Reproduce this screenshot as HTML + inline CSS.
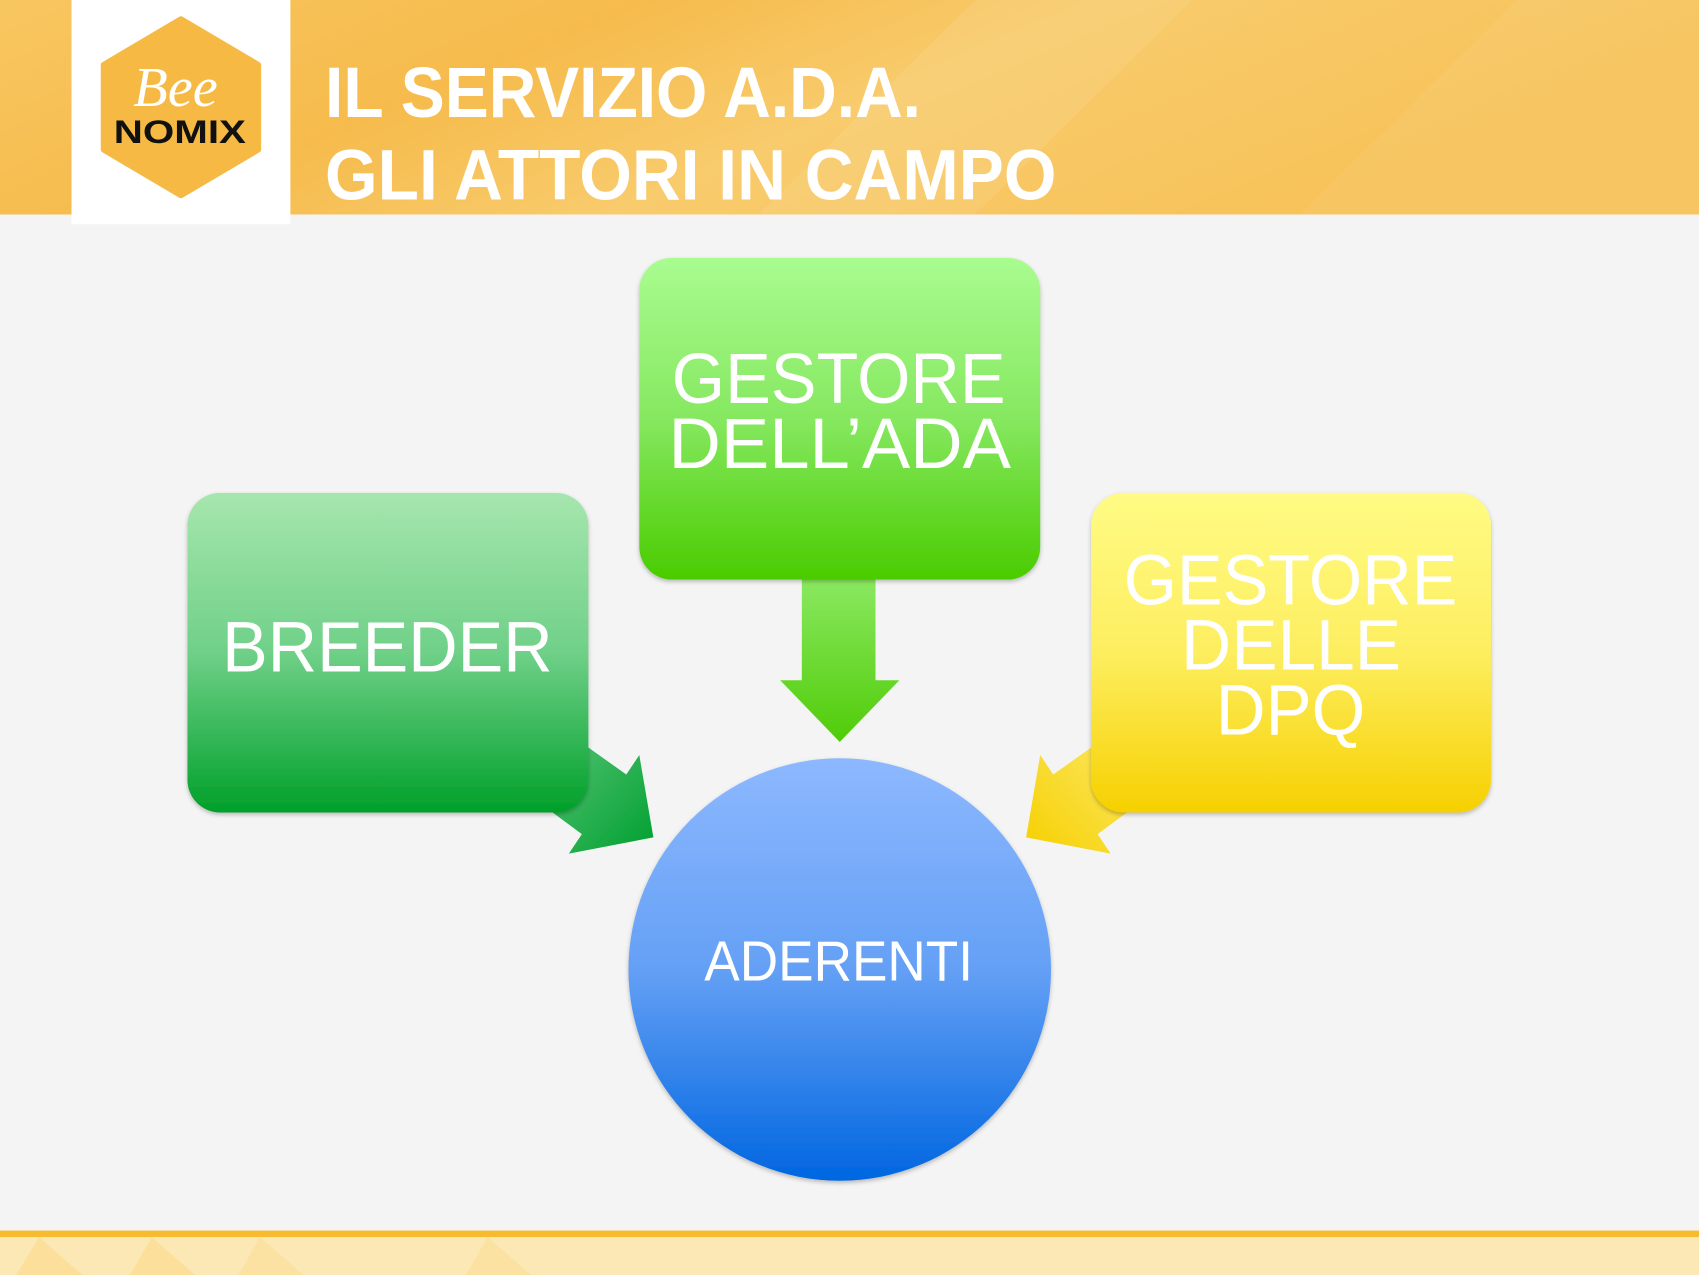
<!DOCTYPE html>
<html><head><meta charset="utf-8"><style>
html,body{margin:0;padding:0;background:#f4f4f4;}
svg{display:block}
</style></head><body>
<svg width="1699" height="1275" viewBox="0 0 1568 1177" preserveAspectRatio="none" xmlns="http://www.w3.org/2000/svg">
<defs>
<linearGradient id="hdr" x1="0" y1="0" x2="1" y2="0.3">
<stop offset="0" stop-color="#f8c660"/><stop offset="0.35" stop-color="#f6bb4c"/><stop offset="0.6" stop-color="#f8cb6c"/><stop offset="1" stop-color="#f7c258"/></linearGradient>
<linearGradient id="gA" x1="0" y1="0" x2="0" y2="1"><stop offset="0" stop-color="#a9fc90"/><stop offset="0.5" stop-color="#86e860"/><stop offset="1" stop-color="#4acc00"/></linearGradient>
<linearGradient id="gB" x1="0" y1="0" x2="0" y2="1"><stop offset="0" stop-color="#a6e6ae"/><stop offset="0.5" stop-color="#6fd088"/><stop offset="1" stop-color="#00a02a"/></linearGradient>
<linearGradient id="gD" x1="0" y1="0" x2="0" y2="1"><stop offset="0" stop-color="#fffb84"/><stop offset="0.5" stop-color="#fdee60"/><stop offset="1" stop-color="#f6d000"/></linearGradient>
<linearGradient id="gC" x1="0" y1="0" x2="0" y2="1"><stop offset="0" stop-color="#8db8ff"/><stop offset="0.5" stop-color="#64a0f5"/><stop offset="1" stop-color="#0066e0"/></linearGradient>
<linearGradient id="aA" x1="0" y1="0" x2="0" y2="1"><stop offset="0" stop-color="#8ae860"/><stop offset="1" stop-color="#50cc08"/></linearGradient>
<linearGradient id="aB" x1="0" y1="0" x2="1" y2="1"><stop offset="0" stop-color="#50c070"/><stop offset="1" stop-color="#00a030"/></linearGradient>
<linearGradient id="aD" x1="1" y1="0" x2="0" y2="1"><stop offset="0" stop-color="#fbe660"/><stop offset="1" stop-color="#f6d000"/></linearGradient>
<filter id="sh" x="-10%" y="-10%" width="120%" height="120%"><feDropShadow dx="0" dy="2" stdDeviation="2" flood-color="#000" flood-opacity="0.25"/></filter>
</defs>
<rect width="1568" height="1177" fill="#f4f4f4"/>
<rect width="1568" height="198" fill="url(#hdr)"/>
<polygon points="700,198 900,0 1100,0 900,198" fill="#fff" opacity="0.08"/>
<polygon points="1200,198 1400,0 1568,0 1568,198" fill="#fff" opacity="0.06"/>
<rect x="0" y="1136" width="1568" height="6" fill="#f8bb2e"/>
<rect x="0" y="1142" width="1568" height="35" fill="#fce8b4"/>
<polygon points="15,1177 36,1142 76,1177" fill="#fbdc90" opacity="0.7"/>
<polygon points="120,1177 140,1142 180,1177" fill="#fbdc90" opacity="0.7"/>
<polygon points="220,1177 240,1142 280,1177" fill="#fbdc90" opacity="0.5"/>
<polygon points="430,1177 450,1142 490,1177" fill="#fbdc90" opacity="0.5"/>
<rect x="66" y="0" width="202" height="207" fill="#fff"/>
<polygon points="167,18 238,60 238,138 167,180 96,138 96,60" fill="#f5b944" stroke="#f5b944" stroke-width="6" stroke-linejoin="round"/>
<text x="162" y="98" font-family="Liberation Serif, serif" font-style="italic" font-size="52" fill="#fff" text-anchor="middle">Bee</text>
<text x="166" y="132" font-family="Liberation Sans, sans-serif" font-weight="bold" font-size="30" fill="#111" text-anchor="middle" textLength="122" lengthAdjust="spacingAndGlyphs">NOMIX</text>
<g font-family="Liberation Sans, sans-serif" font-weight="bold" fill="#fff" font-size="66">
<text x="300" y="108" textLength="550" lengthAdjust="spacingAndGlyphs">IL SERVIZIO A.D.A.</text>
<text x="300" y="184" textLength="675" lengthAdjust="spacingAndGlyphs">GLI ATTORI IN CAMPO</text>
</g>
<polygon points="740,535 808,535 808,628 830,628 775,685 720,628 740,628" fill="url(#aA)"/>
<polygon points="543,690 578,715 590,697 603,773 525,788 537,770 510,750" fill="url(#aB)"/>
<polygon points="1007,690 972,715 960,697 947,773 1025,788 1013,770 1040,750" fill="url(#aD)"/>
<rect x="590" y="238" width="370" height="297" rx="30" fill="url(#gA)" filter="url(#sh)"/>
<rect x="173" y="455" width="370" height="295" rx="30" fill="url(#gB)" filter="url(#sh)"/>
<rect x="1007" y="455" width="369" height="295" rx="30" fill="url(#gD)" filter="url(#sh)"/>
<circle cx="775" cy="895" r="195" fill="url(#gC)" filter="url(#sh)"/>
<g font-family="Liberation Sans, sans-serif" fill="#fff" font-size="66">
<text x="620" y="372" textLength="308" lengthAdjust="spacingAndGlyphs">GESTORE</text>
<text x="617" y="432" textLength="316" lengthAdjust="spacingAndGlyphs">DELL’ADA</text>
<text x="205" y="620" textLength="305" lengthAdjust="spacingAndGlyphs">BREEDER</text>
<text x="1037" y="558" textLength="308" lengthAdjust="spacingAndGlyphs">GESTORE</text>
<text x="1090" y="618" textLength="203" lengthAdjust="spacingAndGlyphs">DELLE</text>
<text x="1122" y="678" textLength="138" lengthAdjust="spacingAndGlyphs">DPQ</text>
<text x="650" y="905" font-size="52" textLength="248" lengthAdjust="spacingAndGlyphs">ADERENTI</text>
</g>
</svg>
</body></html>
